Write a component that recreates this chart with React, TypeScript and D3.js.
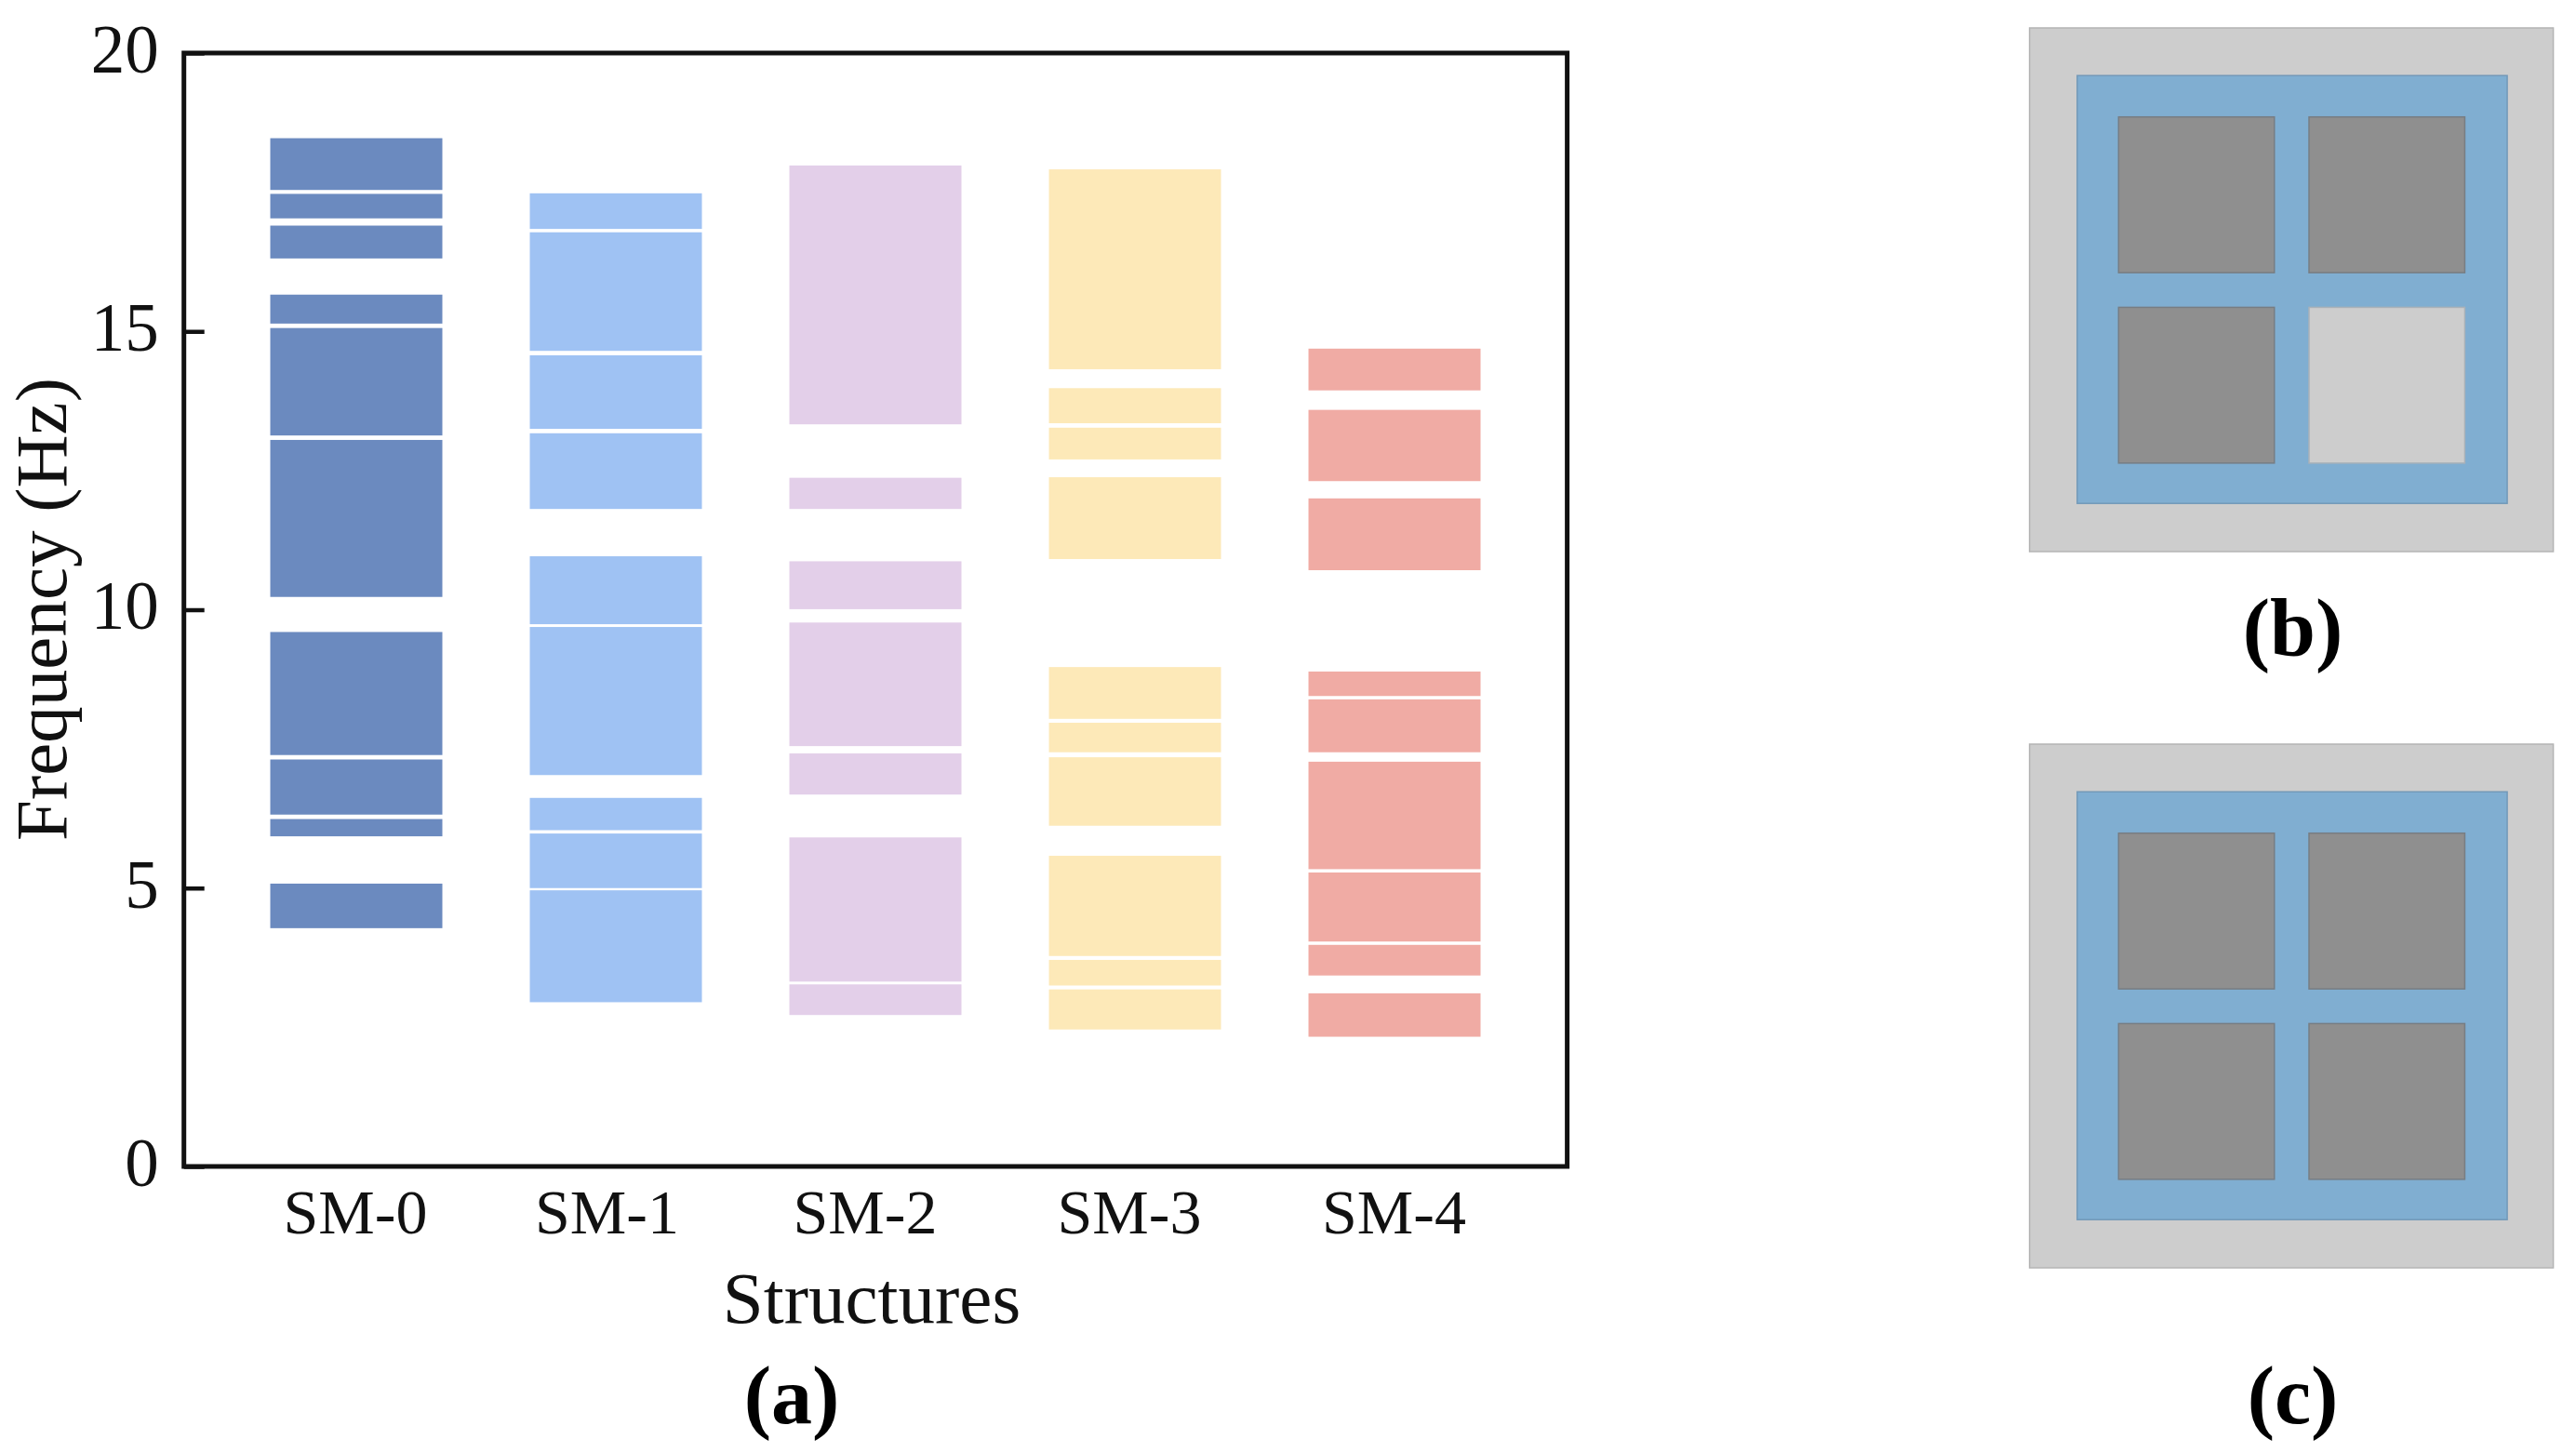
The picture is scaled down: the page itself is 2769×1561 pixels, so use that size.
import React, { useRef, useEffect } from 'react';
import * as d3 from 'd3';

const structures = ['SM-0', 'SM-1', 'SM-2', 'SM-3', 'SM-4'];
const barColors = ['#6b8abf', '#9fc2f3', '#e3cfe9', '#fde9b8', '#f0aba4'];
const yTicks = [0, 5, 10, 15, 20];

// [upper, lower] edge in Hz of every passband
const sm0 = [[18.47, 17.54], [17.47, 17.03], [16.9, 16.31], [15.66, 15.14], [15.06, 13.13], [13.05, 10.23], [9.6, 7.39], [7.31, 6.32], [6.24, 5.93], [5.08, 4.28]];
const sm1 = [[17.48, 16.84], [16.78, 14.65], [14.57, 13.25], [13.17, 11.81], [10.96, 9.74], [9.69, 7.03], [6.62, 6.04], [5.98, 5.0], [4.96, 2.95]];
const sm2 = [[17.98, 13.33], [12.37, 11.81], [10.87, 10.01], [9.77, 7.55], [7.42, 6.68], [5.91, 3.32], [3.27, 2.72]];
const sm3 = [[17.91, 14.32], [13.98, 13.35], [13.27, 12.7], [12.38, 10.91], [8.97, 8.04], [7.97, 7.44], [7.35, 6.12], [5.58, 3.78], [3.71, 3.25], [3.18, 2.46]];
const sm4 = [[14.69, 13.94], [13.59, 12.31], [12.0, 10.71], [8.89, 8.45], [8.39, 7.44], [7.27, 5.34], [5.28, 4.04], [3.98, 3.43], [3.11, 2.33]];
const bands = [sm0, sm1, sm2, sm3, sm4];

// unit cell schematics (b) and (c), cell order: TL, TR, BL, BR
const cellFillsB = ['#8f8f8f', '#8f8f8f', '#8f8f8f', '#cdcdcd'];
const cellFillsC = ['#8f8f8f', '#8f8f8f', '#8f8f8f', '#8f8f8f'];
const cellNames = ['a', 'b', 'c', 'd'];

const SERIF = '"Liberation Serif", serif';

const App = () => {
  const ref = useRef<SVGSVGElement | null>(null);

  useEffect(() => {
    if (!ref.current) return;
    const svg = d3.select(ref.current);
    svg.selectAll('*').remove();

    const left = 197.7;
    const right = 1684.6;
    const top = 57;
    const bottom = 1254;

    const x = d3
      .scaleBand()
      .domain(structures)
      .range([243.5, 1638.5])
      .paddingInner(0.337)
      .paddingOuter(0.1685);
    const y = d3.scaleLinear().domain([0, 20]).range([bottom, top]);

    // bars
    structures.forEach((name, i) => {
      svg
        .append('g')
        .selectAll('rect')
        .data(bands[i])
        .enter()
        .append('rect')
        .attr('x', x(name) as number)
        .attr('width', x.bandwidth())
        .attr('y', (d) => y(d[0]))
        .attr('height', (d) => y(d[1]) - y(d[0]))
        .attr('fill', barColors[i]);
    });

    // y axis
    const yAxis = svg
      .append('g')
      .attr('transform', `translate(${left},0)`)
      .call(d3.axisLeft(y).tickValues(yTicks).tickSizeInner(-22).tickSizeOuter(0).tickPadding(27));
    yAxis.select('.domain').remove();
    yAxis.selectAll('line').attr('stroke', '#111').attr('stroke-width', 4.5);
    yAxis
      .selectAll('text')
      .attr('font-size', 73)
      .attr('dy', '0.28em')
      .style('font-family', SERIF)
      .attr('fill', '#111');

    // x axis, the labels are not quite centred under the bars
    const labelShift = [-1, -9.5, -11, -6, -0.5];
    const xAxis = svg
      .append('g')
      .attr('transform', `translate(0,${bottom})`)
      .call(d3.axisBottom(x).tickSize(0).tickPadding(24));
    xAxis.select('.domain').remove();
    xAxis
      .selectAll('text')
      .attr('x', (_, i) => labelShift[i])
      .attr('font-size', 68)
      .style('font-family', SERIF)
      .attr('fill', '#111');

    // frame
    svg
      .append('rect')
      .attr('x', left)
      .attr('y', top)
      .attr('width', right - left)
      .attr('height', bottom - top)
      .attr('fill', 'none')
      .attr('stroke', '#111')
      .attr('stroke-width', 5);

    // titles
    svg
      .append('text')
      .text('Frequency (Hz)')
      .attr('transform', 'translate(70.5,655) rotate(-90)')
      .attr('text-anchor', 'middle')
      .attr('font-size', 79)
      .style('font-family', SERIF)
      .attr('fill', '#111');
    svg
      .append('text')
      .text('Structures')
      .attr('x', 937)
      .attr('y', 1421.5)
      .attr('text-anchor', 'middle')
      .attr('font-size', 79)
      .style('font-family', SERIF)
      .attr('fill', '#111');

    // schematics
    const drawPanel = (px: number, py: number, fills: string[]) => {
      const size = 563;
      const u = d3.scaleLinear().domain([0, 1]).range([0, size]);
      const cells = d3.scaleBand().domain(['0', '1']).range([u(0.17), u(0.831)]).paddingInner(0.182);
      const g = svg.append('g').attr('transform', `translate(${px},${py})`);
      g.append('rect')
        .attr('width', size)
        .attr('height', size)
        .attr('fill', '#cdcdcd')
        .attr('stroke', '#b4b4b4')
        .attr('stroke-width', 1.5);
      g.append('rect')
        .attr('x', u(0.091))
        .attr('y', u(0.091))
        .attr('width', u(0.821))
        .attr('height', u(0.817))
        .attr('fill', '#80aed1')
        .attr('stroke', '#7399b8')
        .attr('stroke-width', 1.5);
      g.selectAll('rect.cell')
        .data(cellNames)
        .enter()
        .append('rect')
        .attr('class', 'cell')
        .attr('x', (_, i) => cells(String(i % 2)) as number)
        .attr('y', (_, i) => cells(String(Math.floor(i / 2))) as number)
        .attr('width', cells.bandwidth())
        .attr('height', cells.bandwidth())
        .attr('fill', (_, i) => fills[i])
        .attr('stroke', (_, i) => (fills[i] === '#8f8f8f' ? '#777d83' : '#a9b1b8'))
        .attr('stroke-width', 1.5);
    };
    drawPanel(2181.6, 30, cellFillsB);
    drawPanel(2181.6, 800, cellFillsC);

    // panel letters
    const letters = [
      { t: '(a)', x: 851, y: 1530 },
      { t: '(b)', x: 2464.5, y: 705 },
      { t: '(c)', x: 2464.5, y: 1530 },
    ];
    svg
      .append('g')
      .selectAll('text')
      .data(letters)
      .enter()
      .append('text')
      .text((d) => d.t)
      .attr('x', (d) => d.x)
      .attr('y', (d) => d.y)
      .attr('text-anchor', 'middle')
      .attr('font-size', 88)
      .attr('font-weight', 'bold')
      .style('font-family', SERIF)
      .attr('fill', '#000');
  }, []);

  return (
    <svg
      ref={ref}
      width={2769}
      height={1561}
      style={{ position: 'absolute', left: 0, top: 0, background: '#fff' }}
    />
  );
};

export default App;
